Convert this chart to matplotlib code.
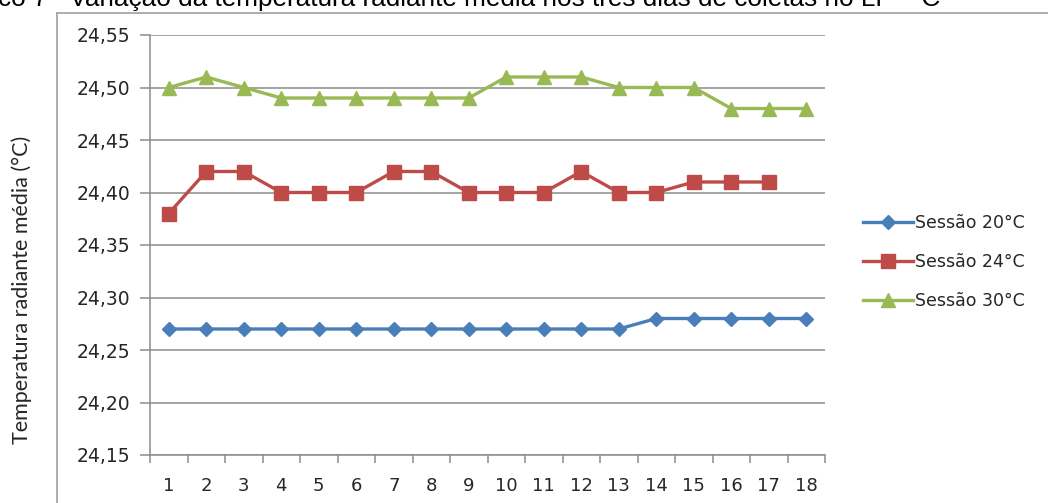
import matplotlib
matplotlib.use("Agg")
import matplotlib.pyplot as plt
from matplotlib.lines import Line2D
import numpy as np

# data
sessions = list(range(1, 19))
s20 = [24.27, 24.27, 24.27, 24.27, 24.27, 24.27, 24.27, 24.27, 24.27,
       24.27, 24.27, 24.27, 24.27, 24.28, 24.28, 24.28, 24.28, 24.28]
s24 = [24.38, 24.42, 24.42, 24.40, 24.40, 24.40, 24.42, 24.42, 24.40,
       24.40, 24.40, 24.42, 24.40, 24.40, 24.41, 24.41, 24.41]
s30 = [24.50, 24.51, 24.50, 24.49, 24.49, 24.49, 24.49, 24.49, 24.49,
       24.51, 24.51, 24.51, 24.50, 24.50, 24.50, 24.48, 24.48, 24.48]
yticks = [24.15, 24.20, 24.25, 24.30, 24.35, 24.40, 24.45, 24.50, 24.55]
labels = ["Sessão 20°C", "Sessão 24°C", "Sessão 30°C"]

W, H = 1048, 503
fig = plt.figure(figsize=(W / 100, H / 100), dpi=100)
ax = fig.add_axes([150 / W, 1 - 455 / H, (825 - 150) / W, (455 - 35) / H])

FONT = "DejaVu Sans"
TXT = "#262626"
GRID = "#8c8c8c"

ax.plot(sessions, s20, color="#4A7EBB", lw=2.4, marker="D", ms=7.5, label=labels[0], zorder=3)
ax.plot(sessions[:len(s24)], s24, color="#BE4B48", lw=2.4, marker="s", ms=9.5, label=labels[1], zorder=3)
ax.plot(sessions, s30, color="#98B954", lw=2.4, marker="^", ms=10.5, label=labels[2], zorder=3)

ax.set_xlim(0.5, 18.5)
ax.set_ylim(24.15, 24.55)
ax.set_yticks(yticks)
ax.set_yticklabels([f"{v:.2f}".replace(".", ",") for v in yticks],
                   fontsize=13.5, family=FONT, color=TXT)
ax.yaxis.grid(True, color=GRID, lw=1.1)
ax.set_axisbelow(True)

ax.set_xticks(np.arange(0.5, 19, 1))
ax.set_xticklabels([])
ax.set_xticks(sessions, minor=True)
ax.set_xticklabels([str(s) for s in sessions], minor=True,
                   fontsize=13, family=FONT, color=TXT)
ax.tick_params(axis="x", which="major", direction="out", length=6, color=GRID, width=1.1)
ax.tick_params(axis="x", which="minor", length=0, pad=16)
ax.tick_params(axis="y", direction="out", length=7, color=GRID, width=1.1, pad=7)

for side in ["top", "right"]:
    ax.spines[side].set_visible(False)
for side in ["left", "bottom"]:
    ax.spines[side].set_color(GRID)
    ax.spines[side].set_linewidth(1.1)

leg = fig.legend(loc="center left", bbox_to_anchor=(847 / W, 1 - 262 / H),
                 frameon=False, prop={"family": FONT, "size": 12.5},
                 handlelength=2.9, labelspacing=1.2, handletextpad=0.1)
for t in leg.get_texts():
    t.set_color(TXT)

fig.text(22 / W, 1 - 290 / H, "Temperatura radiante média (°C)", rotation=90,
         ha="center", va="center", fontsize=15.5, family="Lato", color=TXT)

# outer chart frame (partly cropped in the screenshot)
fig.add_artist(Line2D([57 / W, 57 / W], [0, 1 - 13 / H], transform=fig.transFigure,
                      color="#a0a0a0", lw=1.2))
fig.add_artist(Line2D([57 / W, 1], [1 - 13 / H, 1 - 13 / H], transform=fig.transFigure,
                      color="#a0a0a0", lw=1.2))

# title, cut off at the top of the screenshot
fig.text(-2 / W, 1 + 1 / H,
         "co 7– Variação da temperatura radiante média nos três dias de coletas no LP – C",
         ha="left", va="center", fontsize=18.8, family="Liberation Sans", color="black")

fig.savefig("out.png", dpi=100)
